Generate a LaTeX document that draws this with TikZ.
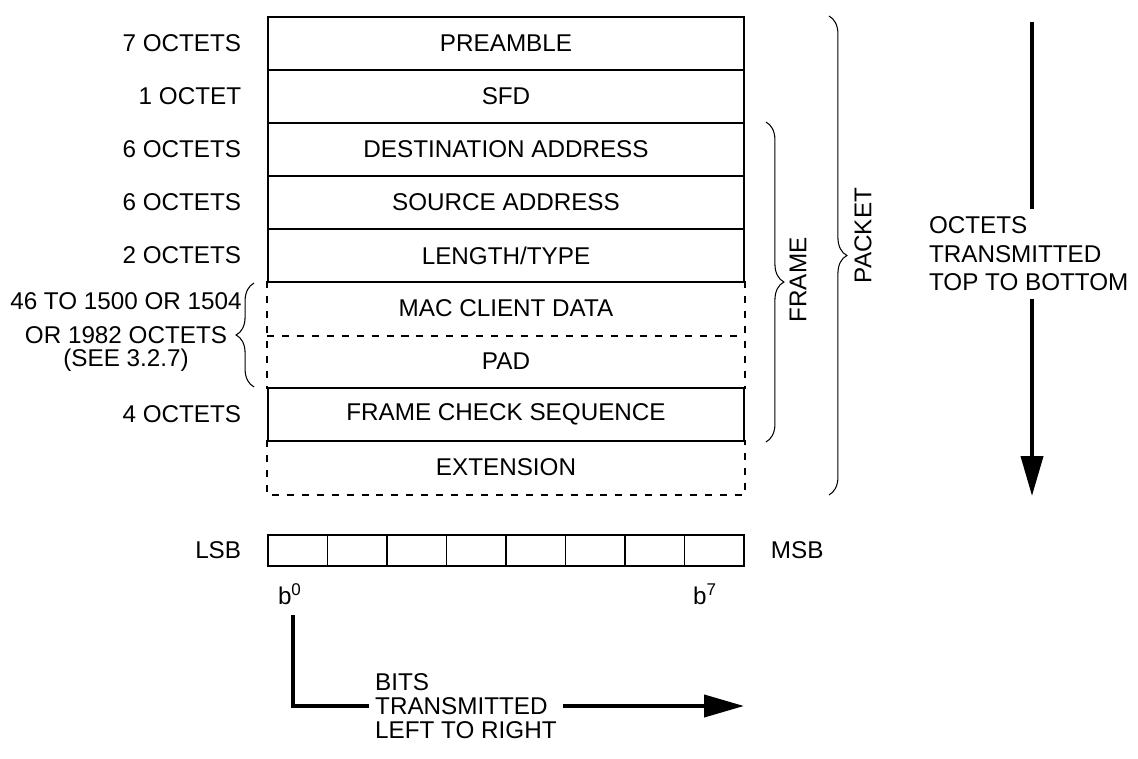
\documentclass[tikz,border=0pt]{standalone}
\usepackage{fontspec}
\setmainfont{Liberation Sans}
\usepackage{tikz}
\usetikzlibrary{arrows.meta,positioning,calc,decorations.pathreplacing}

\begin{document}
\begin{tikzpicture}[x=0.02cm,y=-0.02cm,
  font=\fontsize{13.8pt}{16.2pt}\selectfont,
  line width=1.1pt,
  field/.style={draw,rectangle,minimum width=9.52cm,minimum height=1.06cm,inner sep=0pt},
  optfield/.style={rectangle,minimum width=9.52cm,minimum height=1.06cm,inner sep=0pt},
  optline/.style={dash pattern=on 4pt off 4.5pt},
  size/.style={inner sep=0pt},
  cell/.style={draw,rectangle,minimum width=1.19cm,minimum height=0.62cm,inner sep=0pt},
  brc/.style={decorate,decoration={brace,amplitude=0.36cm},line width=0.6pt},
  bar/.style={line width=2.3pt},
  flow/.style={line width=2.3pt,-{Triangle[length=0.8cm,width=0.44cm]}},
]
  \useasboundingbox (0,0) rectangle (1138,759);

  % fields
  \foreach \i/\name/\size in {1/PREAMBLE/7 OCTETS,2/SFD/1 OCTET,3/DESTINATION ADDRESS/6 OCTETS,4/SOURCE ADDRESS/6 OCTETS,5/{LENGTH/TYPE}/2 OCTETS} {
    \node[field] (f\i) at (506,{53*\i-9.5}) {\name};
    \node[size,left=0.5cm of f\i] (s\i) {\size};
  }
  \node[optfield] (f6) at (506,308.5) {MAC CLIENT DATA};
  \node[optfield] (f7) at (506,361.5) {PAD};
  \node[field] (f8) at (506,414.5) {FRAME CHECK SEQUENCE};
  \node[optfield] (f9) at (506,467.5) {EXTENSION};
  \node[size,left=0.5cm of f8] (s8) {4 OCTETS};

  \draw[optline] (f6.north west) -- (f7.south west);
  \draw[optline] (f6.north east) -- (f7.south east);
  \draw[optline] (f6.south west) -- (f6.south east);
  \draw[optline] (f9.north west) -- (f9.south west) -- (f9.south east) -- (f9.north east);

  % data length
  \draw[brc] ($(f7.south west)+(-13,-2)$) -- ($(f6.north west)+(-13,2)$);
  \node[align=center] (dsize) at (126,332) {46 TO 1500 OR 1504\\[3pt]OR 1982 OCTETS\\[-3pt](SEE 3.2.7)};

  % frame and packet
  \draw[brc] ($(f3.north east)+(21,0)$) -- ($(f8.south east)+(21,0)$);
  \node[rotate=90] (frame) at ($(f3.north east)!0.5!(f8.south east)+(53,-2)$) {FRAME};
  \draw[brc] ($(f1.north east)+(84,0)$) -- ($(f9.south east)+(84,0)$);
  \node[rotate=90] (packet) at ($(f1.north east)!0.5!(f9.south east)+(118,-20)$) {PACKET};

  % octet order
  \coordinate (otop) at (1032,22);
  \coordinate (obot) at (1032,496);
  \node[align=left,anchor=west,inner sep=4pt] (octets) at (921,254) {OCTETS\\TRANSMITTED\\TOP TO BOTTOM};
  \draw[bar] (otop) -- (octets.north -| otop);
  \draw[flow] (octets.south -| otop) -- (obot);

  % bits
  \foreach \i in {0,...,7}
    \node[cell] (c\i) at ({297.75+59.5*\i},550.5) {};
  \node[size,left=0.5cm of c0] (lsb) {LSB};
  \node[size,right=0.5cm of c7] (msb) {MSB};
  \node[size,below right=0.32cm and 0.2cm of c0.south west] (b0) {b\textsuperscript{0}};
  \node[size,below left=0.32cm and 0.54cm of c7.south east] (b7) {b\textsuperscript{7}};

  \coordinate (bstart) at (293,615);
  \coordinate (bend) at (744,706);
  \node[align=left,anchor=west,inner sep=3pt,font=\fontsize{13.8pt}{13.6pt}\selectfont] (bitsnote) at (369,706) {BITS\\TRANSMITTED\\LEFT TO RIGHT};
  \draw[bar] (bstart) |- (bitsnote.west);
  \draw[flow] (bitsnote.east) -- (bend);
\end{tikzpicture}
\end{document}
